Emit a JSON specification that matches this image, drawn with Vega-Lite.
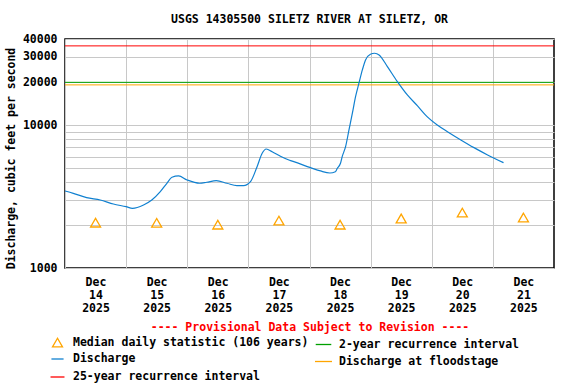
{
  "$schema": "https://vega.github.io/schema/vega-lite/v6.json",
  "width": 489,
  "height": 229,
  "autosize": "none",
  "padding": {"left": 65, "top": 39, "right": 22, "bottom": 116},
  "background": "white",
  "title": {"text": "USGS 14305500 SILETZ RIVER AT SILETZ, OR", "font": "DejaVu Sans Mono", "fontSize": 11.5, "fontWeight": "bold", "color": "black", "offset": 8, "anchor": "middle"},
  "config": {
    "view": {"stroke": "black", "strokeWidth": 1.5},
    "font": "DejaVu Sans Mono",
    "axis": {"labelFont": "DejaVu Sans Mono", "labelFontWeight": "bold", "labelFontSize": 11.5, "labelColor": "black", "titleFont": "DejaVu Sans Mono", "titleFontWeight": "bold", "titleFontSize": 11.5, "titleColor": "black", "gridColor": "#c8c8c8", "gridWidth": 1, "gridOpacity": 1, "domain": false, "ticks": false, "labelOverlap": false}
  },
  "datasets": {
    "thresholds": [
      {"series": "25-year recurrence interval", "q": 35800},
      {"series": "2-year recurrence interval", "q": 19900},
      {"series": "Discharge at floodstage", "q": 19100}
    ],
    "discharge": [
      {"t": "2025-12-14T00:00", "q": 3460, "series": "Discharge"},
      {"t": "2025-12-14T03:15", "q": 3330, "series": "Discharge"},
      {"t": "2025-12-14T08:30", "q": 3105, "series": "Discharge"},
      {"t": "2025-12-14T13:50", "q": 2990, "series": "Discharge"},
      {"t": "2025-12-14T19:00", "q": 2805, "series": "Discharge"},
      {"t": "2025-12-15T00:00", "q": 2685, "series": "Discharge"},
      {"t": "2025-12-15T02:30", "q": 2617, "series": "Discharge"},
      {"t": "2025-12-15T06:50", "q": 2760, "series": "Discharge"},
      {"t": "2025-12-15T10:05", "q": 2990, "series": "Discharge"},
      {"t": "2025-12-15T13:25", "q": 3420, "series": "Discharge"},
      {"t": "2025-12-15T16:00", "q": 3915, "series": "Discharge"},
      {"t": "2025-12-15T18:00", "q": 4313, "series": "Discharge"},
      {"t": "2025-12-15T20:35", "q": 4405, "series": "Discharge"},
      {"t": "2025-12-15T23:55", "q": 4130, "series": "Discharge"},
      {"t": "2025-12-16T04:50", "q": 3915, "series": "Discharge"},
      {"t": "2025-12-16T07:40", "q": 3980, "series": "Discharge"},
      {"t": "2025-12-16T11:25", "q": 4083, "series": "Discharge"},
      {"t": "2025-12-16T15:35", "q": 3915, "series": "Discharge"},
      {"t": "2025-12-16T19:30", "q": 3766, "series": "Discharge"},
      {"t": "2025-12-16T22:05", "q": 3766, "series": "Discharge"},
      {"t": "2025-12-17T00:50", "q": 4018, "series": "Discharge"},
      {"t": "2025-12-17T03:25", "q": 5115, "series": "Discharge"},
      {"t": "2025-12-17T05:25", "q": 6350, "series": "Discharge"},
      {"t": "2025-12-17T07:00", "q": 6800, "series": "Discharge"},
      {"t": "2025-12-17T09:20", "q": 6510, "series": "Discharge"},
      {"t": "2025-12-17T12:35", "q": 6050, "series": "Discharge"},
      {"t": "2025-12-17T16:10", "q": 5670, "series": "Discharge"},
      {"t": "2025-12-17T17:50", "q": 5545, "series": "Discharge"},
      {"t": "2025-12-18T00:25", "q": 5035, "series": "Discharge"},
      {"t": "2025-12-18T04:20", "q": 4775, "series": "Discharge"},
      {"t": "2025-12-18T08:00", "q": 4620, "series": "Discharge"},
      {"t": "2025-12-18T10:10", "q": 4720, "series": "Discharge"},
      {"t": "2025-12-18T10:55", "q": 4985, "series": "Discharge"},
      {"t": "2025-12-18T12:10", "q": 5405, "series": "Discharge"},
      {"t": "2025-12-18T12:50", "q": 6010, "series": "Discharge"},
      {"t": "2025-12-18T14:10", "q": 7060, "series": "Discharge"},
      {"t": "2025-12-18T15:30", "q": 9240, "series": "Discharge"},
      {"t": "2025-12-18T16:50", "q": 12100, "series": "Discharge"},
      {"t": "2025-12-18T18:05", "q": 15800, "series": "Discharge"},
      {"t": "2025-12-18T19:25", "q": 19620, "series": "Discharge"},
      {"t": "2025-12-18T20:45", "q": 24300, "series": "Discharge"},
      {"t": "2025-12-18T22:00", "q": 28560, "series": "Discharge"},
      {"t": "2025-12-18T23:55", "q": 31300, "series": "Discharge"},
      {"t": "2025-12-19T01:35", "q": 31800, "series": "Discharge"},
      {"t": "2025-12-19T03:20", "q": 30950, "series": "Discharge"},
      {"t": "2025-12-19T06:35", "q": 25630, "series": "Discharge"},
      {"t": "2025-12-19T10:30", "q": 20130, "series": "Discharge"},
      {"t": "2025-12-19T14:25", "q": 16240, "series": "Discharge"},
      {"t": "2025-12-19T18:25", "q": 13610, "series": "Discharge"},
      {"t": "2025-12-19T22:10", "q": 11450, "series": "Discharge"},
      {"t": "2025-12-20T02:10", "q": 10010, "series": "Discharge"},
      {"t": "2025-12-20T06:10", "q": 8990, "series": "Discharge"},
      {"t": "2025-12-20T11:25", "q": 7870, "series": "Discharge"},
      {"t": "2025-12-20T16:35", "q": 6950, "series": "Discharge"},
      {"t": "2025-12-20T21:55", "q": 6180, "series": "Discharge"},
      {"t": "2025-12-21T04:10", "q": 5455, "series": "Discharge"}
    ],
    "median": [
      {"t": "2025-12-14T12:00", "q": 2075, "series": "Median daily statistic (106 years)"},
      {"t": "2025-12-15T12:00", "q": 2070, "series": "Median daily statistic (106 years)"},
      {"t": "2025-12-16T12:00", "q": 2010, "series": "Median daily statistic (106 years)"},
      {"t": "2025-12-17T12:00", "q": 2145, "series": "Median daily statistic (106 years)"},
      {"t": "2025-12-18T12:00", "q": 2010, "series": "Median daily statistic (106 years)"},
      {"t": "2025-12-19T12:00", "q": 2220, "series": "Median daily statistic (106 years)"},
      {"t": "2025-12-20T12:00", "q": 2440, "series": "Median daily statistic (106 years)"},
      {"t": "2025-12-21T12:00", "q": 2255, "series": "Median daily statistic (106 years)"}
    ]
  },
  "encoding": {
    "y": {
      "field": "q", "type": "quantitative",
      "scale": {"type": "log", "domain": [1000, 40000], "nice": false},
      "axis": {
        "values": [1000, 2000, 3000, 4000, 5000, 6000, 7000, 8000, 9000, 10000, 20000, 30000, 40000],
        "labelExpr": "(datum.value == 1000 || datum.value == 10000 || datum.value == 20000 || datum.value == 30000 || datum.value == 40000) ? format(datum.value, 'd') : ''",
        "labelPadding": 8,
        "title": "Discharge, cubic feet per second",
        "titlePadding": 6,
        "titleY": 119,
        "grid": true
      }
    },
    "color": {"field": "series", "type": "nominal",
      "scale": {"domain": ["Median daily statistic (106 years)", "Discharge", "25-year recurrence interval", "2-year recurrence interval", "Discharge at floodstage"], "range": ["#ffa500", "#1080d0", "#ff0000", "#00a000", "#ffa500"]},
      "legend": {"title": null, "orient": "none", "legendX": -17, "legendY": 297, "columns": 2, "labelFont": "DejaVu Sans Mono", "labelFontWeight": "bold", "labelFontSize": 11.5, "labelColor": "black", "symbolStrokeWidth": 1.3, "rowPadding": 2, "columnPadding": 3, "labelOffset": 6, "labelLimit": 400}}
  },
  "layer": [
    {
      "data": {"name": "median"},
      "mark": {"type": "point", "filled": false, "strokeWidth": 1.3, "opacity": 1},
      "encoding": {
        "x": {
          "field": "t", "type": "temporal",
          "scale": {"domain": [{"year": 2025, "month": 12, "date": 14}, {"year": 2025, "month": 12, "date": 22}]},
          "axis": {
            "values": [
              {"year": 2025, "month": 12, "date": 14},
              {"year": 2025, "month": 12, "date": 15},
              {"year": 2025, "month": 12, "date": 16},
              {"year": 2025, "month": 12, "date": 17},
              {"year": 2025, "month": 12, "date": 18},
              {"year": 2025, "month": 12, "date": 19},
              {"year": 2025, "month": 12, "date": 20},
              {"year": 2025, "month": 12, "date": 21}
            ],
            "labelExpr": "[timeFormat(datum.value, '%b'), timeFormat(datum.value, '%d'), timeFormat(datum.value, '%Y')]",
            "labelOffset": 30.5,
            "labelFlush": false,
            "labelAlign": "center",
            "labelPadding": 8,
            "labelLineHeight": 13,
            "grid": true,
            "title": "---- Provisional Data Subject to Revision ----",
            "titleColor": "#ff0000",
            "titlePadding": 8
          }
        },
        "shape": {"field": "series", "type": "nominal",
          "scale": {"domain": ["Median daily statistic (106 years)", "Discharge", "25-year recurrence interval", "2-year recurrence interval", "Discharge at floodstage"], "range": ["triangle-up", "stroke", "stroke", "stroke", "stroke"]},
          "legend": {"title": null, "orient": "none", "legendX": -17, "legendY": 297, "columns": 2}},
        "size": {"field": "series", "type": "nominal",
          "scale": {"domain": ["Median daily statistic (106 years)", "Discharge", "25-year recurrence interval", "2-year recurrence interval", "Discharge at floodstage"], "range": [100, 290, 290, 290, 290]},
          "legend": {"title": null, "orient": "none", "legendX": -17, "legendY": 297, "columns": 2}}
      }
    },
    {
      "data": {"name": "thresholds"},
      "mark": {"type": "rule", "strokeWidth": 1}
    },
    {
      "data": {"name": "discharge"},
      "mark": {"type": "line", "interpolate": "monotone", "strokeWidth": 1.2},
      "encoding": {
        "x": {"field": "t", "type": "temporal"}
      }
    }
  ]
}
